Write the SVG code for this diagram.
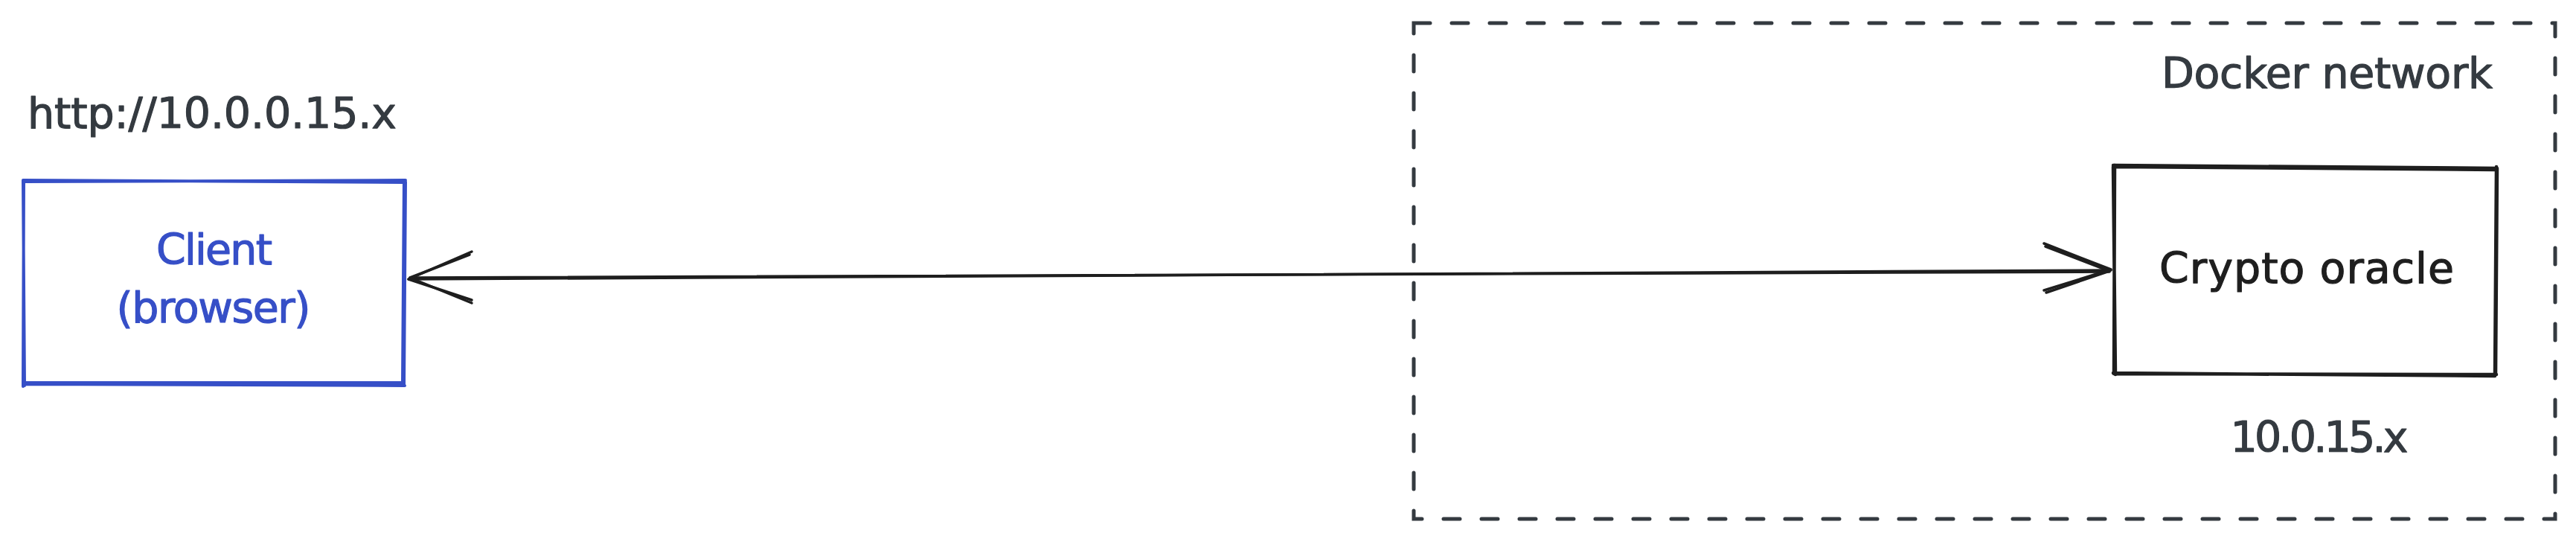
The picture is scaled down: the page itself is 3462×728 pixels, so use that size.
<svg xmlns="http://www.w3.org/2000/svg" width="3462" height="728" viewBox="0 0 3462 728">
  <style>
    .txt { font-family: "DejaVu Sans", "Liberation Sans", sans-serif; font-size: 57px; stroke-width: 1.2; stroke-linejoin: round; }
    .gray { fill: #343a40; stroke: #343a40; }
    .blue { fill: #364fc7; stroke: #364fc7; }
    .black { fill: #1e1e1e; stroke: #1e1e1e; }
    .sk { fill: none; stroke-linecap: round; stroke-linejoin: round; }
    .blueStroke { stroke: #364fc7; stroke-width: 4; }
    .blackStroke { stroke: #1e1e1e; stroke-width: 4.5; }
    .dash { fill: none; stroke: #343a40; stroke-width: 5; stroke-linecap: round; stroke-dasharray: 22 29; }
    .conn { fill: none; stroke: #1e1e1e; stroke-width: 3.5; stroke-linecap: round; stroke-linejoin: round; }
  </style>
  <rect width="3462" height="728" fill="#ffffff"/>

  <g id="docker-network">
    <path class="dash" d="M1900 31 L3434 31 L3434 697 L1900 697 Z"/>
    <text class="txt gray" x="2905" y="118" textLength="445" lengthAdjust="spacing">Docker network</text>
  </g>

  <g id="client-address">
    <text class="txt gray" x="37" y="172" textLength="496" lengthAdjust="spacing">http://10.0.0.15.x</text>
  </g>

  <g id="client">
    <path class="sk blueStroke" d="M31 242 L543 245 M32 244 L545 242 M545 244 L543 518 M543 243 L541 516 M544 518 L33 516 M543 514 L32 514 M31 519 L32 243 M33 518 L31 242"/>
    <text class="txt blue" x="288" y="355" text-anchor="middle" textLength="156" lengthAdjust="spacing">Client</text>
    <text class="txt blue" x="287" y="433" text-anchor="middle" textLength="261" lengthAdjust="spacing">(browser)</text>
  </g>

  <g id="crypto-oracle">
    <path class="sk blackStroke" d="M2840 222 L3356 226 M2842 224 L3355 228 M3356 226 L3354 503 M3355 224 L3353 503 M3355 503 L2842 502 M3353 505 L2840 501 M2843 503 L2840 224 M2841 502 L2842 222"/>
    <text class="txt black" x="3100" y="380" text-anchor="middle" textLength="396" lengthAdjust="spacing">Crypto oracle</text>
  </g>

  <g id="oracle-address">
    <text class="txt gray" x="3117" y="607" text-anchor="middle" textLength="239" lengthAdjust="spacing">10.0.15.x</text>
  </g>

  <g id="connectors">
    <path class="conn" d="M549 375 L2837 363"/>
    <path class="conn" d="M551 373 L2835 365"/>
    <path class="conn" d="M634 338 L549 375 L634 403"/>
    <path class="conn" d="M631 342 L551 373 L634 407"/>
    <path class="conn" d="M2747 327 L2837 362 L2747 390"/>
    <path class="conn" d="M2749 331 L2835 364 L2750 393"/>
  </g>
</svg>
